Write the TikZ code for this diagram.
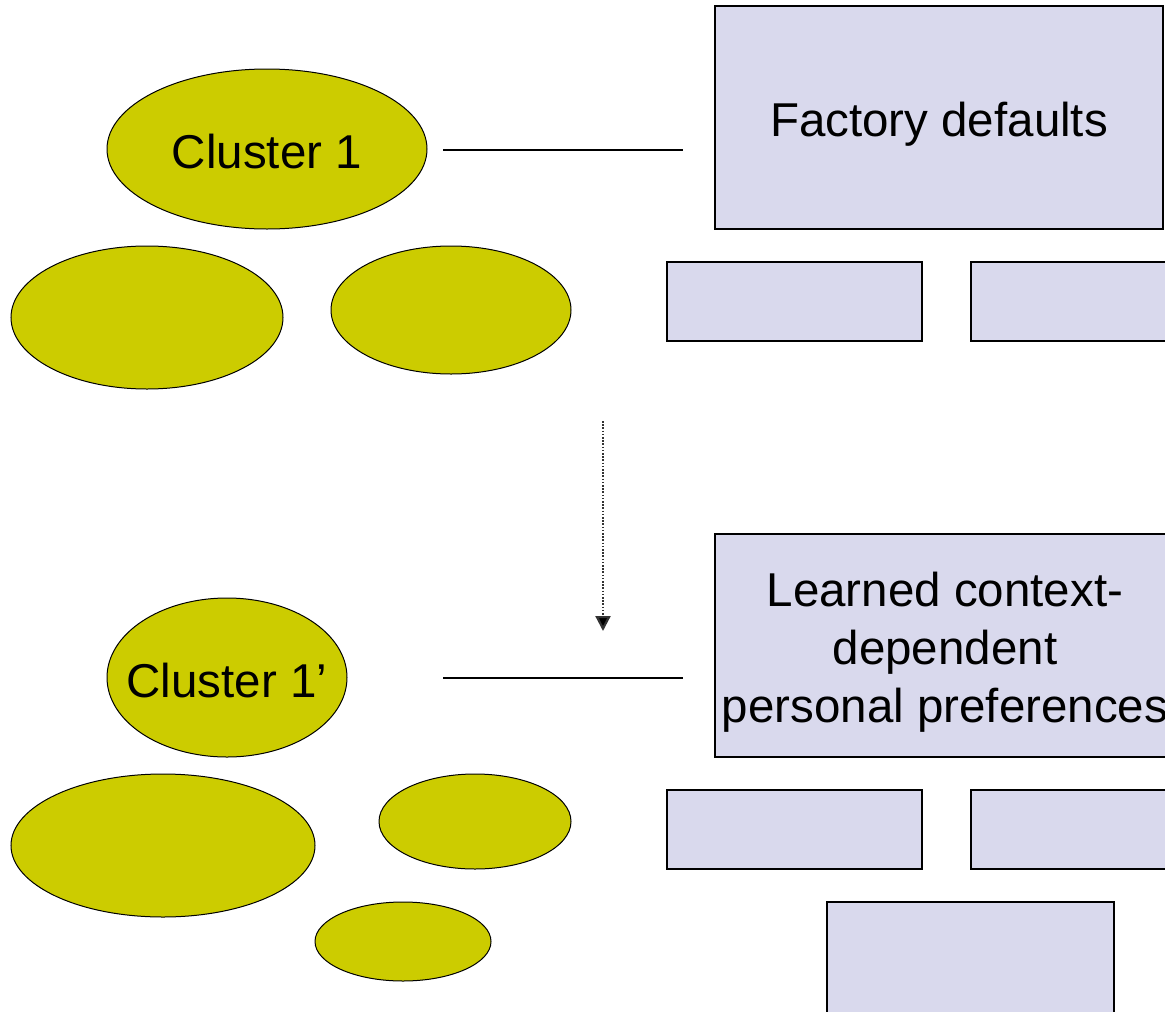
\documentclass[tikz,border=0pt]{standalone}
\usepackage{fontspec}
\setmainfont{Liberation Sans}
\usetikzlibrary{shapes.geometric,arrows.meta}
\definecolor{olivefill}{RGB}{204,204,0}
\definecolor{boxfill}{RGB}{217,217,237}
\tikzset{
  blob/.style={ellipse, draw=black, line width=1pt, fill=olivefill, inner sep=0pt},
  panel/.style={rectangle, draw=black, line width=1.6pt, fill=boxfill, inner sep=0pt},
  caption/.style={inner sep=0pt, align=center, font=\fontsize{47.5}{58}\selectfont},
  link/.style={line width=1.3pt},
  flow/.style={line width=2.2pt, dash pattern=on 1.6pt off 1.6pt, draw=black!80, -{Triangle[length=15pt,width=15pt,fill=black]}}
}
\begin{document}
\begin{tikzpicture}[x=1pt,y=-1pt]
\clip (0,0) rectangle (1165,1012);
\fill[white] (0,0) rectangle (1165,1012);
% top group
\node[blob, minimum width=320pt, minimum height=160pt] (c1) at (267,149) {};
\node[caption] (c1t) at (267,152) {Cluster 1};
\node[blob, minimum width=272pt, minimum height=143pt] (e1) at (147,317.5) {};
\node[blob, minimum width=240pt, minimum height=128pt] (e2) at (451,310) {};
\node[panel, minimum width=448pt, minimum height=223pt] (fd) at (939,117.5) {};
\node[caption] (fdt) at (939,124) {Factory defaults};
\node[panel, minimum width=255pt, minimum height=79pt] (b1) at (794.5,301.5) {};
\node[panel, minimum width=255pt, minimum height=79pt] (b2) at (1098.5,301.5) {};
\coordinate (l1a) at (443,150);
\coordinate (l1b) at (683,150);
\draw[link] (l1a) -- (l1b);
% arrow
\coordinate (ar1) at (603,421);
\coordinate (ar2) at (603,631);
\draw[flow] (ar1) -- (ar2);
% bottom group
\node[blob, minimum width=240pt, minimum height=159pt] (c2) at (227,677.5) {};
\node[caption] (c2t) at (227,681) {Cluster 1’};
\node[blob, minimum width=304pt, minimum height=143pt] (e3) at (163,845.5) {};
\node[blob, minimum width=192pt, minimum height=95pt] (e4) at (475,821.5) {};
\node[blob, minimum width=176pt, minimum height=79pt] (e5) at (403,941.5) {};
\node[panel, minimum width=460pt, minimum height=223pt] (lp) at (945,645.5) {};
\node[caption] (lpt) at (945,652) {Learned context-\\dependent\\personal preferences};
\node[panel, minimum width=255pt, minimum height=79pt] (b3) at (794.5,829.5) {};
\node[panel, minimum width=255pt, minimum height=79pt] (b4) at (1098.5,829.5) {};
\node[panel, minimum width=287pt, minimum height=170pt] (b5) at (970.5,987) {};
\coordinate (l2a) at (443,678);
\coordinate (l2b) at (683,678);
\draw[link] (l2a) -- (l2b);
\end{tikzpicture}
\end{document}
